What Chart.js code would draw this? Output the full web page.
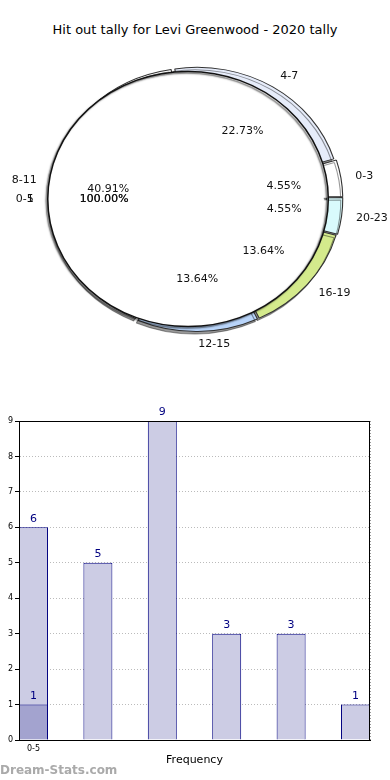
<!DOCTYPE html>
<html>
<head>
<meta charset="utf-8">
<script src="https://cdn.jsdelivr.net/npm/chart.js"></script>
<style>
  body { margin: 0; background: #fff; width: 390px; height: 780px; position: relative; overflow: hidden; font-family: "DejaVu Sans", sans-serif; }
  #title { position: absolute; top: 22px; left: 0; width: 390px; text-align: center; font-size: 13px; color: #000; }
  #pie { position: absolute; top: 0; left: 0; }
  #bars { position: absolute; top: 390px; left: 0; }
  #mark { position: absolute; left: 0; top: 763px; font-size: 12px; font-weight: bold; color: #aaa; }
</style>
</head>
<body>
<div id="title">Hit out tally for Levi Greenwood - 2020 tally</div>
<canvas id="pie" width="390" height="390"></canvas>
<canvas id="bars" width="390" height="390"></canvas>
<div id="mark">Dream-Stats.com</div>
<script>
// outer ring (clockwise from the top)
const ringLabels = ['4-7', '0-3', '20-23', '16-19', '12-15', '8-11'];
const ringValues = [5, 1, 1, 3, 3, 9];
const ringColors = ['#e6ecfa', '#ffffff', '#d9fafc', '#d4ea8c', '#b9d5fa', '#ffffff'];

// inner pie
const innerLabels = ['0-5'];
const innerValues = [1];

// bar chart
const barValues = [6, 5, 9, 3, 3, 1];
const overlayValues = [1];
const xTickLabels = ['0-5'];

const SX = 1.1; // pie is drawn a bit wider than tall
const SHADOW = 'rgba(0,0,0,0.4)';

// where chart.js really draws an exploded arc
function arcGeom(el) {
  const mid = (el.startAngle + el.endAngle) / 2;
  const shift = (el.options.offset || 0) / 4;
  const fix = 1 - Math.sin(Math.min(Math.PI, el.circumference));
  return { mid, x: el.x + Math.cos(mid) * shift, y: el.y + Math.sin(mid) * shift, r: el.outerRadius + shift * fix };
}

const pieStretch = {
  id: 'pieStretch',
  beforeDatasetsDraw(chart) {
    const c = chart.getDatasetMeta(0).data[0];
    const ctx = chart.ctx;
    ctx.save();
    ctx.translate(c.x, c.y);
    ctx.scale(SX, 1);
    ctx.translate(-c.x, -c.y);
    ctx.shadowOffsetX = -2;
    ctx.shadowOffsetY = 2.5;
  },
  beforeDatasetDraw(chart, args) {
    // no shadow for the inner fill, its outline gets one below
    chart.ctx.shadowColor = args.index === 1 ? 'rgba(0,0,0,0)' : SHADOW;
  },
  afterDatasetsDraw(chart) {
    const ctx = chart.ctx;
    const c = chart.getDatasetMeta(0).data[0];
    ctx.shadowColor = 'rgba(0,0,0,0.6)';
    ctx.shadowBlur = 1.5;
    ctx.shadowOffsetX = -1.5;
    ctx.shadowOffsetY = 1.5;
    chart.getDatasetMeta(1).data.forEach(el => {
      const g = arcGeom(el);
      ctx.beginPath();
      ctx.arc(g.x, g.y, g.r, 0, Math.PI * 2);
      ctx.strokeStyle = '#111';
      ctx.lineWidth = 1.4;
      ctx.stroke();
    });
    ctx.restore();

    ctx.save();
    ctx.font = '11px "DejaVu Sans"';
    ctx.fillStyle = '#111';
    ctx.textBaseline = 'middle';
    const sx = x => c.x + (x - c.x) * SX;
    chart.data.datasets.forEach((ds, di) => {
      const total = ds.data.reduce((a, b) => a + b, 0);
      chart.getDatasetMeta(di).data.forEach((el, i) => {
        const g = arcGeom(el);
        const cx = Math.cos(g.mid), cy = Math.sin(g.mid);
        const lx = sx(g.x + cx * g.r * 1.1), ly = g.y + cy * g.r * 1.1;
        ctx.textAlign = cx > 0 ? 'left' : 'right';
        ctx.fillText(ds.labels[i], lx, ly);
        if (di === 1) ctx.fillText(String(ds.data[i]), lx, ly);
        ctx.textAlign = 'center';
        const pct = (ds.data[i] / total * 100).toFixed(2) + '%';
        const px = sx(g.x + cx * g.r * 0.6), py = g.y + cy * g.r * 0.6;
        ctx.fillText(pct, px, py);
        if (di === 1) ctx.fillText(pct, px + 0.4, py);
      });
    });
    ctx.restore();
  }
};

new Chart(document.getElementById('pie'), {
  type: 'pie',
  data: {
    datasets: [
      { labels: ringLabels, data: ringValues, backgroundColor: ringColors, borderColor: '#333', borderWidth: 1,
        offset: 8, weight: 0.115, radius: 130, rotation: -9, order: 1 },
      { labels: innerLabels, data: innerValues, backgroundColor: '#ffffff', borderWidth: 0,
        offset: 29, weight: 0.885, radius: 135.9, rotation: 90, order: 0 }
    ]
  },
  options: {
    responsive: false,
    animation: false,
    events: [],
    devicePixelRatio: 1,
    layout: { padding: { left: 46, right: 44, top: 55, bottom: 47 } },
    plugins: { legend: { display: false }, tooltip: { enabled: false } }
  },
  plugins: [pieStretch]
});

const barLabels = {
  id: 'barLabels',
  afterDatasetsDraw(chart) {
    const ctx = chart.ctx;
    const a = chart.chartArea;
    ctx.save();
    ctx.strokeStyle = '#000';
    ctx.lineWidth = 1;
    ctx.strokeRect(a.left + 0.5, a.top + 0.5, a.right - a.left - 1, a.bottom - a.top);
    ctx.font = '11px "DejaVu Sans"';
    ctx.fillStyle = '#000080';
    ctx.textAlign = 'center';
    ctx.textBaseline = 'bottom';
    chart.data.datasets.forEach((ds, di) => {
      chart.getDatasetMeta(di).data.forEach((el, i) => {
        ctx.fillText(String(ds.data[i].y), el.x, el.y - 3);
      });
    });
    ctx.restore();
  }
};

new Chart(document.getElementById('bars'), {
  type: 'bar',
  data: {
    datasets: [
      { data: barValues.map((v, i) => ({ x: i, y: v })), backgroundColor: '#ccccE4', borderColor: '#000080', borderWidth: 1, grouped: false, order: 2, categoryPercentage: 1, barPercentage: 0.45 },
      { data: overlayValues.map((v, i) => ({ x: i, y: v })), backgroundColor: '#a3a3cf', borderColor: '#000080', borderWidth: 1, grouped: false, order: 1, categoryPercentage: 1, barPercentage: 0.45 }
    ]
  },
  options: {
    responsive: false,
    animation: false,
    events: [],
    devicePixelRatio: 1,
    layout: { padding: { left: 0, right: 20, top: 31, bottom: 8 } },
    plugins: { legend: { display: false }, tooltip: { enabled: false } },
    scales: {
      x: {
        type: 'linear',
        offset: false,
        min: -0.225,
        max: 5.225,
        afterBuildTicks: s => { s.ticks = [{ value: 0 }]; },
        afterFit: s => { s.height = 32; },
        ticks: { callback: v => xTickLabels[v] || '', font: { size: 8, family: 'DejaVu Sans' }, color: '#000', padding: 4, maxRotation: 0 },
        grid: { color: '#999', drawTicks: false },
        border: { color: '#000', dash: [1, 2] },
        title: { display: true, text: 'Frequency', font: { size: 11, family: 'DejaVu Sans' }, color: '#000', padding: { top: 2, bottom: 5 } }
      },
      y: {
        min: 0,
        max: 9,
        afterFit: s => { s.width = 19; },
        ticks: { stepSize: 1, font: { size: 8, family: 'DejaVu Sans' }, color: '#000', padding: 2 },
        grid: { color: '#bbb', tickLength: 4, tickColor: '#000' },
        border: { color: '#000', dash: [1, 2] }
      }
    }
  },
  plugins: [barLabels]
});
</script>
</body>
</html>
